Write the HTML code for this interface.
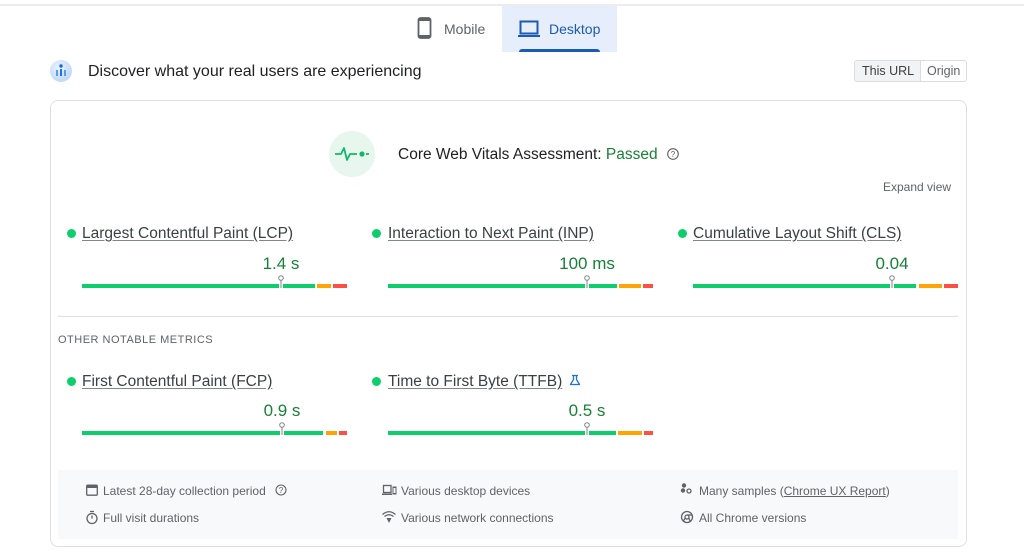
<!DOCTYPE html>
<html><head><meta charset="utf-8">
<style>
*{margin:0;padding:0;box-sizing:border-box}
html,body{width:1024px;height:555px;overflow:hidden;background:#fff;font-family:"Liberation Sans",Arial,sans-serif}
.a{position:absolute;white-space:nowrap}
.lbl{position:absolute;white-space:nowrap;font-size:15.5px;line-height:20px;height:20px;color:#3c4043;text-decoration:underline;text-decoration-color:#80868b;text-underline-offset:2px}
.val{position:absolute;width:120px;text-align:center;font-size:17px;line-height:22px;height:22px;color:#188038}
.dot{position:absolute;width:9px;height:9px;border-radius:50%;background:#0cce6b}
.g{position:absolute;height:4px;background:#0cce6b}
.o{position:absolute;height:4px;background:#ffa400}
.r{position:absolute;height:4px;background:#ff4e42}
.ft{position:absolute;white-space:nowrap;font-size:12px;line-height:16px;height:16px;color:#5f6368}
</style></head><body>

<div class="a" style="left:0;top:4px;width:1024px;height:2px;background:#ececec"></div>

<div class="a" style="left:502px;top:6px;width:115px;height:46px;background:#e6eefc"></div>
<div class="a" style="left:519px;top:49px;width:81px;height:3px;background:#1a5bb5;border-radius:3px 3px 0 0"></div>
<div class="a" style="left:444px;top:20px;font-size:14px;line-height:18px;color:#5f6368">Mobile</div>
<div class="a" style="left:549px;top:20px;font-size:14px;line-height:18px;color:#1a5bb5">Desktop</div>

<div class="a" style="left:88px;top:62px;font-size:16px;line-height:20px;color:#202124">Discover what your real users are experiencing</div>

<div class="a" style="left:854px;top:60px;width:113px;height:22px;border:1px solid #dadce0;border-radius:3px;overflow:hidden">
  <div class="a" style="left:0;top:0;width:66px;height:20px;background:#f1f3f4;border-right:1px solid #dadce0"></div>
  <div class="a" style="left:7px;top:2px;font-size:12.5px;line-height:16px;color:#3c4043">This URL</div>
  <div class="a" style="left:72px;top:2px;font-size:12.5px;line-height:16px;color:#5f6368">Origin</div>
</div>

<div class="a" style="left:50px;top:100px;width:917px;height:447px;border:1px solid #e0e0e0;border-radius:8px"></div>

<div class="a" style="left:329px;top:131px;width:46px;height:46px;border-radius:50%;background:#e7f7ee"></div>
<div class="a" style="left:398px;top:145px;font-size:15.5px;line-height:20px;color:#202124">Core Web Vitals Assessment: <span style="color:#188038">Passed</span></div>
<div class="a" style="left:883px;top:179px;font-size:12px;line-height:16px;color:#5f6368">Expand view</div>

<div class="dot" style="left:67px;top:229px"></div>
<div class="lbl" style="left:82px;top:224px">Largest Contentful Paint (LCP)</div>
<div class="dot" style="left:372px;top:229px"></div>
<div class="lbl" style="left:388px;top:224px">Interaction to Next Paint (INP)</div>
<div class="dot" style="left:678px;top:229px"></div>
<div class="lbl" style="left:693px;top:224px">Cumulative Layout Shift (CLS)</div>

<div class="val" style="left:221px;top:253px">1.4 s</div>
<div class="val" style="left:527px;top:253px">100 ms</div>
<div class="val" style="left:832px;top:253px">0.04</div>

<div class="g" style="left:82px;top:284px;width:197px"></div>
<div class="g" style="left:283px;top:284px;width:32px"></div>
<div class="o" style="left:317px;top:284px;width:14px"></div>
<div class="r" style="left:333px;top:284px;width:14px"></div>
<div class="g" style="left:388px;top:284px;width:197px"></div>
<div class="g" style="left:589px;top:284px;width:28px"></div>
<div class="o" style="left:619px;top:284px;width:22px"></div>
<div class="r" style="left:643px;top:284px;width:10px"></div>
<div class="g" style="left:693px;top:284px;width:197px"></div>
<div class="g" style="left:894px;top:284px;width:22px"></div>
<div class="o" style="left:919px;top:284px;width:23px"></div>
<div class="r" style="left:944px;top:284px;width:14px"></div>

<div class="a" style="left:58px;top:316px;width:900px;height:1px;background:#e0e0e0"></div>
<div class="a" style="left:58px;top:333px;font-size:11px;line-height:14px;letter-spacing:0.5px;color:#5f6368">OTHER NOTABLE METRICS</div>

<div class="dot" style="left:67px;top:377px"></div>
<div class="lbl" style="left:82px;top:372px">First Contentful Paint (FCP)</div>
<div class="dot" style="left:372px;top:377px"></div>
<div class="lbl" style="left:388px;top:372px">Time to First Byte (TTFB)</div>

<div class="val" style="left:222px;top:400px">0.9 s</div>
<div class="val" style="left:527px;top:400px">0.5 s</div>

<div class="g" style="left:82px;top:431px;width:198px"></div>
<div class="g" style="left:284px;top:431px;width:39px"></div>
<div class="o" style="left:326px;top:431px;width:11px"></div>
<div class="r" style="left:339px;top:431px;width:8px"></div>
<div class="g" style="left:388px;top:431px;width:197px"></div>
<div class="g" style="left:589px;top:431px;width:27px"></div>
<div class="o" style="left:618px;top:431px;width:24px"></div>
<div class="r" style="left:644px;top:431px;width:9px"></div>

<div class="a" style="left:58px;top:470px;width:900px;height:69px;background:#f8f9fa"></div>
<div class="ft" style="left:103px;top:483px">Latest 28-day collection period</div>
<div class="ft" style="left:103px;top:510px">Full visit durations</div>
<div class="ft" style="left:401px;top:483px">Various desktop devices</div>
<div class="ft" style="left:401px;top:510px">Various network connections</div>
<div class="ft" style="left:699px;top:483px">Many samples (<span style="text-decoration:underline">Chrome UX Report</span>)</div>
<div class="ft" style="left:699px;top:510px">All Chrome versions</div>

<svg class="a" style="left:0;top:0" width="1024" height="555" viewBox="0 0 1024 555">
  <rect x="418.5" y="18" width="12" height="20" rx="2" fill="none" stroke="#5f6368" stroke-width="1.8"/>
  <rect x="418.5" y="18" width="12" height="3" fill="#5f6368"/>
  <rect x="418.5" y="35" width="12" height="3" fill="#5f6368"/>
  <rect x="520.5" y="21.5" width="17" height="12" fill="none" stroke="#1a5bb5" stroke-width="2"/>
  <line x1="518" y1="36" x2="540" y2="36" stroke="#1a5bb5" stroke-width="2"/>
  <defs><radialGradient id="dg" cx="0.4" cy="0.35" r="0.7"><stop offset="0" stop-color="#eaf2fe"/><stop offset="1" stop-color="#bcd6f8"/></radialGradient></defs>
  <circle cx="61" cy="71" r="11" fill="url(#dg)"/>
  <circle cx="61" cy="66" r="1.7" fill="#1967d2"/>
  <rect x="56" y="70" width="2" height="6" fill="#5a9cec"/>
  <rect x="60" y="69" width="2" height="7" fill="#1a73e8"/>
  <rect x="64" y="70" width="2" height="6" fill="#5a9cec"/>
  <path d="M335 154 H341 L344 148 L347 160 L350 154 H357" fill="none" stroke="#12b76a" stroke-width="1.8" stroke-linejoin="round"/>
  <circle cx="362" cy="154" r="2.6" fill="#12b76a"/>
  <line x1="366" y1="154" x2="369" y2="154" stroke="#12b76a" stroke-width="1.8"/>
  <circle cx="673" cy="154" r="5.3" fill="none" stroke="#5f6368" stroke-width="1.1"/>
  <text x="673" y="157" font-size="8" text-anchor="middle" fill="#5f6368" font-family="Liberation Sans, sans-serif">?</text>
  <g fill="#fff" stroke="#80868b" stroke-width="1">
    <line x1="281" y1="280" x2="281" y2="288"/><circle cx="281" cy="278" r="2.3"/>
    <line x1="587" y1="280" x2="587" y2="288"/><circle cx="587" cy="278" r="2.3"/>
    <line x1="892" y1="280" x2="892" y2="288"/><circle cx="892" cy="278" r="2.3"/>
    <line x1="282" y1="427" x2="282" y2="435"/><circle cx="282" cy="425" r="2.3"/>
    <line x1="587" y1="427" x2="587" y2="435"/><circle cx="587" cy="425" r="2.3"/>
  </g>
  <path d="M572 375.5 H578 M573.5 375.5 V379.5 L570.5 384.5 H579.5 L576.5 379.5 V375.5" fill="none" stroke="#1a73e8" stroke-width="1.3" stroke-linejoin="round"/>
  <g fill="none" stroke="#5f6368" stroke-width="1.3">
    <rect x="86.7" y="485.2" width="10.6" height="10" rx="1"/>
    <circle cx="92" cy="518.5" r="5"/>
    <line x1="90" y1="511.5" x2="94" y2="511.5"/>
    <line x1="92" y1="518.5" x2="92" y2="515.5"/>
    <rect x="383.5" y="485.5" width="7.5" height="7"/>
    <circle cx="689" cy="491" r="2"/>
    <circle cx="687" cy="517" r="5.5"/>
    <circle cx="687" cy="517" r="2"/>
    <line x1="687" y1="515" x2="692" y2="515"/>
    <line x1="685.3" y1="518" x2="683" y2="521.5"/>
    <line x1="688.8" y1="518" x2="690.5" y2="522"/>
    <path d="M382.5 514.5 Q389 509 395.5 514.5"/>
    <path d="M384.5 516.5 Q389 513 393.5 516.5"/>
  </g>
  <rect x="86.5" y="485" width="11" height="3" fill="#5f6368"/>
  <rect x="382" y="493.5" width="10" height="1.5" fill="#5f6368"/>
  <rect x="392.5" y="486.5" width="4" height="8" fill="#5f6368"/>
  <rect x="393.5" y="488" width="2" height="5" fill="#f8f9fa"/>
  <path d="M386.5 518 L389 523 L391.5 518 Z" fill="#5f6368"/>
  <circle cx="684" cy="485.5" r="2.2" fill="#5f6368"/>
  <circle cx="683" cy="490.5" r="2.2" fill="#5f6368"/>
  <circle cx="281" cy="490" r="5" fill="none" stroke="#5f6368" stroke-width="1.1"/>
  <text x="281" y="493" font-size="8" text-anchor="middle" fill="#5f6368" font-family="Liberation Sans, sans-serif">?</text>
</svg>
</body></html>
